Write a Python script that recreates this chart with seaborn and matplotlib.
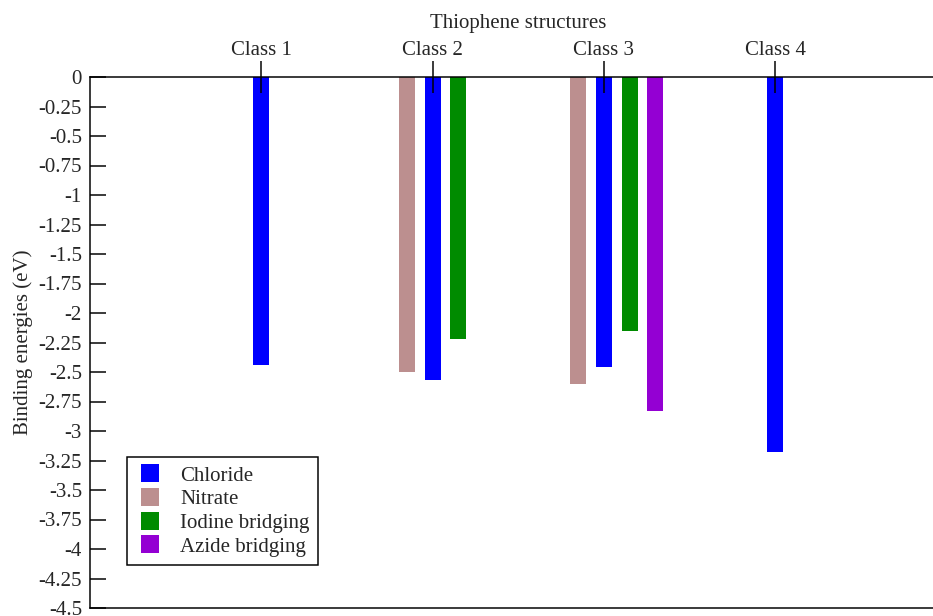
import numpy as np
import pandas as pd
import matplotlib
matplotlib.use("Agg")
import matplotlib.pyplot as plt
from matplotlib.legend_handler import HandlerPatch
import seaborn as sns

# Binding energies (eV) of anion complexes for each class of thiophene structure
classes = ["Class 1", "Class 2", "Class 3", "Class 4"]
chloride = [-2.44, -2.57, -2.46, -3.18]
nitrate = [np.nan, -2.50, -2.60, np.nan]
iodine_bridging = [np.nan, -2.22, -2.15, np.nan]
azide_bridging = [np.nan, np.nan, -2.83, np.nan]

series_names = ["Chloride", "Nitrate", "Iodine bridging", "Azide bridging"]
series_values = [chloride, nitrate, iodine_bridging, azide_bridging]
series_colors = ["#0000ff", "#bc8f8f", "#008b00", "#9400d3"]
# horizontal shift of each series relative to its class position
series_offsets = [0.0, -0.15, 0.15, 0.30]

y_ticks = np.arange(0, -4.51, -0.25)

rows = []
for name, vals, off in zip(series_names, series_values, series_offsets):
    for i, v in enumerate(vals):
        if not np.isnan(v):
            rows.append({"pos": round(i + 1 + off, 2), "energy": v, "anion": name})
df = pd.DataFrame(rows)

FS = 15
PX = 72 / 100  # points per pixel at 100 dpi

sns.set_theme(style="white")
plt.rcParams["font.family"] = ["Liberation Serif", "DejaVu Serif"]
plt.rcParams["font.size"] = FS

fig = plt.figure(figsize=(9.33, 6.16), dpi=100)
ax = fig.add_axes([90 / 933, 8 / 616, 856.5 / 933, 531 / 616])

sns.barplot(
    data=df, x="pos", y="energy", hue="anion",
    hue_order=series_names, palette=series_colors,
    native_scale=True, dodge=False, width=0.63,
    saturation=1, linewidth=0, ax=ax, legend=False,
)
ax.set_axisbelow(False)

ax.set_xlim(0, 5)
ax.set_ylim(-4.5, 0)

# class labels along the top axis
ax.xaxis.tick_top()
ax.xaxis.set_label_position("top")
ax.set_xticks(range(1, len(classes) + 1))
ax.set_xticklabels(classes, fontsize=FS)
ax.set_xlabel("Thiophene structures", fontsize=FS, labelpad=9)
ax.tick_params(axis="x", which="both", direction="inout", length=32 * PX,
               width=1.5 * PX, color="black", pad=0.8, top=True, bottom=False)

ax.set_yticks(y_ticks)
ax.set_yticklabels([f"{t:g}" if abs(t) > 1e-9 else "0" for t in y_ticks], fontsize=FS)
ax.set_ylabel("Binding energies (eV)", fontsize=FS)
ax.yaxis.set_label_coords(-0.0666, 0.5)
ax.tick_params(axis="y", direction="in", length=16 * PX, width=1.5 * PX,
               color="black", pad=5.8, left=True, right=False)

for side in ["left", "top", "bottom"]:
    ax.spines[side].set_visible(True)
    ax.spines[side].set_color("black")
    ax.spines[side].set_linewidth(1.5 * PX)
ax.spines["right"].set_visible(False)


def square_patch(legend, orig_handle, xdescent, ydescent, width, height, fontsize):
    side = 18 * PX
    return plt.Rectangle((-xdescent + width - side, -ydescent + (height - side) / 2),
                         side, side)


handles = [plt.Rectangle((0, 0), 1, 1, facecolor=c, edgecolor="none") for c in series_colors]
leg = ax.legend(
    handles, series_names, loc="lower left", bbox_to_anchor=(0.043, 0.081),
    borderaxespad=0, frameon=True, fancybox=False, edgecolor="black",
    fontsize=FS, handlelength=1.15, handleheight=0.86, handletextpad=1.0,
    labelspacing=0.15, borderpad=0.4, framealpha=1,
    handler_map={plt.Rectangle: HandlerPatch(patch_func=square_patch)},
)
leg.get_frame().set_linewidth(1.5 * PX)

fig.savefig("out.png", dpi=100)
